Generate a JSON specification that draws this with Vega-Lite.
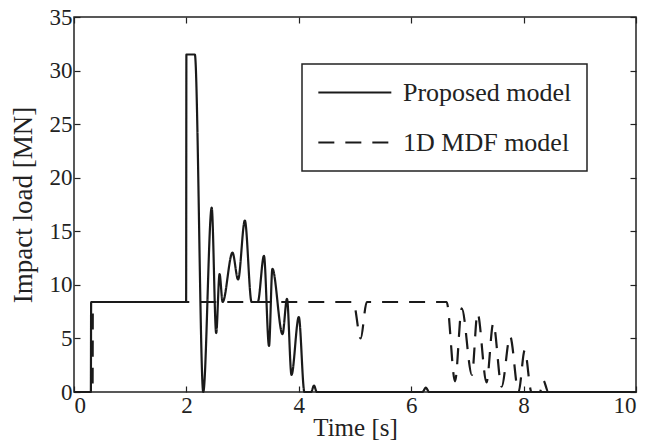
{
  "$schema": "https://vega.github.io/schema/vega-lite/v6.json",
  "width": 562,
  "height": 375,
  "autosize": "none",
  "padding": {"left": 74, "top": 17, "right": 15, "bottom": 53},
  "background": "white",
  "config": {
    "font": "Liberation Serif",
    "view": {"stroke": "#222", "strokeWidth": 1.5},
    "legend": {"strokeWidth": 1.5},
    "axis": {
      "grid": false,
      "domain": false,
      "tickColor": "#222",
      "tickSize": -6,
      "tickWidth": 1.2,
      "labelFont": "Liberation Serif",
      "labelFontSize": 23,
      "labelColor": "#222",
      "titleFont": "Liberation Serif",
      "titleFontSize": 25,
      "titleFontWeight": "normal",
      "titleColor": "#222"
    }
  },
  "data": {
    "values": [
      {"model": "Proposed model", "t": 0, "v": 0},
      {"model": "Proposed model", "t": 0.3, "v": 0},
      {"model": "Proposed model", "t": 0.305, "v": 8.4},
      {"model": "Proposed model", "t": 1.995, "v": 8.4},
      {"model": "Proposed model", "t": 2.0, "v": 31.5},
      {"model": "Proposed model", "t": 2.15, "v": 31.5},
      {"model": "Proposed model", "t": 2.3, "v": 0},
      {"model": "Proposed model", "t": 2.45, "v": 17.2},
      {"model": "Proposed model", "t": 2.53, "v": 5.5},
      {"model": "Proposed model", "t": 2.59, "v": 11.0},
      {"model": "Proposed model", "t": 2.645, "v": 8.4},
      {"model": "Proposed model", "t": 2.82, "v": 13.0},
      {"model": "Proposed model", "t": 2.92, "v": 10.5},
      {"model": "Proposed model", "t": 3.04, "v": 16.0},
      {"model": "Proposed model", "t": 3.16, "v": 8.4},
      {"model": "Proposed model", "t": 3.27, "v": 8.4},
      {"model": "Proposed model", "t": 3.38, "v": 12.7},
      {"model": "Proposed model", "t": 3.47, "v": 4.3},
      {"model": "Proposed model", "t": 3.53, "v": 11.5},
      {"model": "Proposed model", "t": 3.71, "v": 5.4},
      {"model": "Proposed model", "t": 3.79, "v": 8.7},
      {"model": "Proposed model", "t": 3.87, "v": 1.6},
      {"model": "Proposed model", "t": 4.0, "v": 7.0},
      {"model": "Proposed model", "t": 4.1, "v": 0},
      {"model": "Proposed model", "t": 4.22, "v": 0},
      {"model": "Proposed model", "t": 4.27, "v": 0.6},
      {"model": "Proposed model", "t": 4.32, "v": 0},
      {"model": "Proposed model", "t": 6.2, "v": 0},
      {"model": "Proposed model", "t": 6.26, "v": 0.4},
      {"model": "Proposed model", "t": 6.32, "v": 0},
      {"model": "Proposed model", "t": 10, "v": 0},
      {"model": "1D MDF model", "t": 0, "v": 0},
      {"model": "1D MDF model", "t": 0.33, "v": 0},
      {"model": "1D MDF model", "t": 0.335, "v": 8.4},
      {"model": "1D MDF model", "t": 4.97, "v": 8.4},
      {"model": "1D MDF model", "t": 5.1, "v": 5.0},
      {"model": "1D MDF model", "t": 5.21, "v": 8.4},
      {"model": "1D MDF model", "t": 6.63, "v": 8.4},
      {"model": "1D MDF model", "t": 6.78, "v": 1.0},
      {"model": "1D MDF model", "t": 6.9, "v": 7.8},
      {"model": "1D MDF model", "t": 7.08, "v": 1.6},
      {"model": "1D MDF model", "t": 7.18, "v": 7.35},
      {"model": "1D MDF model", "t": 7.34, "v": 0.9},
      {"model": "1D MDF model", "t": 7.46, "v": 6.4},
      {"model": "1D MDF model", "t": 7.61, "v": 0.5},
      {"model": "1D MDF model", "t": 7.76, "v": 5.2},
      {"model": "1D MDF model", "t": 7.91, "v": 0},
      {"model": "1D MDF model", "t": 8.02, "v": 3.9},
      {"model": "1D MDF model", "t": 8.14, "v": 0},
      {"model": "1D MDF model", "t": 8.29, "v": 0},
      {"model": "1D MDF model", "t": 8.35, "v": 1.1},
      {"model": "1D MDF model", "t": 8.44, "v": 0},
      {"model": "1D MDF model", "t": 10, "v": 0}
    ]
  },
  "layer": [
    {
      "mark": {"type": "line", "interpolate": "monotone", "strokeWidth": 2.2, "color": "#1a1a1a"},
      "encoding": {
        "x": {
          "field": "t", "type": "quantitative",
          "scale": {"domain": [0, 10], "nice": false, "zero": false},
          "axis": {"orient": "bottom", "values": [0, 2, 4, 6, 8, 10], "title": "Time [s]", "labelPadding": 8, "titlePadding": -2}
        },
        "y": {
          "field": "v", "type": "quantitative",
          "scale": {"domain": [0, 35], "nice": false},
          "axis": {"orient": "left", "values": [0, 5, 10, 15, 20, 25, 30, 35], "title": "Impact load [MN]", "titleFontSize": 27, "labelPadding": 8, "titlePadding": 12}
        },
        "strokeDash": {
          "field": "model", "type": "nominal",
          "scale": {"domain": ["Proposed model", "1D MDF model"], "range": [[1, 0], [16, 11]]},
          "legend": {
            "orient": "none", "legendX": 228, "legendY": 47, "title": null,
            "symbolType": "M-1,0H5", "symbolSize": 592, "symbolStrokeWidth": 2.2, "symbolStrokeColor": "#1a1a1a", "symbolFillColor": "transparent",
            "labelFont": "Liberation Serif", "labelFontSize": 26, "labelColor": "#222", "labelOffset": 59, "labelLimit": 400,
            "strokeColor": "#222", "padding": 15, "rowPadding": 23
          }
        }
      }
    },
    {
      "mark": {"type": "line", "opacity": 0},
      "encoding": {
        "x": {
          "field": "t", "type": "quantitative",
          "scale": {"domain": [0, 10], "nice": false, "zero": false},
          "axis": {"orient": "top", "values": [0, 2, 4, 6, 8, 10], "labels": false, "title": null}
        },
        "y": {
          "field": "v", "type": "quantitative",
          "scale": {"domain": [0, 35], "nice": false},
          "axis": {"orient": "right", "values": [0, 5, 10, 15, 20, 25, 30, 35], "labels": false, "title": null}
        }
      }
    }
  ],
  "resolve": {"axis": {"x": "independent", "y": "independent"}}
}
